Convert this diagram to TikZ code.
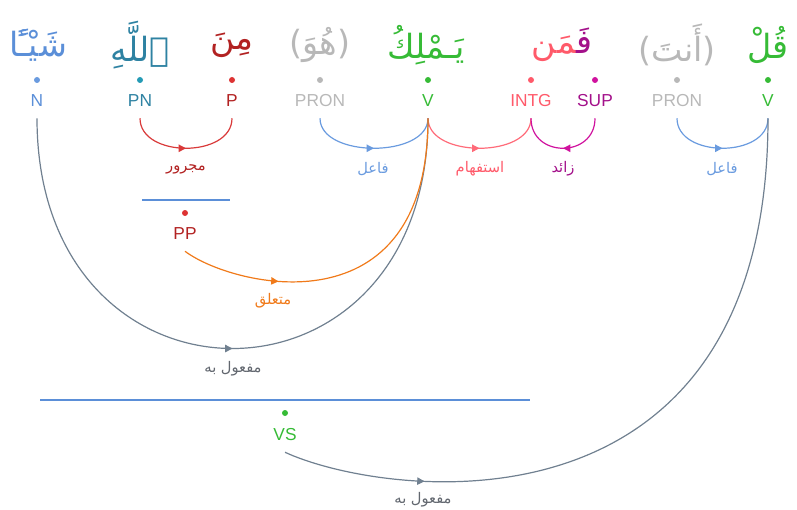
\documentclass[tikz,border=0pt]{standalone}
\usepackage{fontspec}
\setmainfont{Liberation Sans}
\newfontfamily\arabicfont[Script=Arabic]{DejaVu Sans}
\newfontfamily\parenfont{DejaVu Sans}
\TeXXeTstate=1
\usetikzlibrary{arrows.meta,decorations.markings}
\definecolor{nblue}{HTML}{5B8FD8}
\definecolor{pnteal}{HTML}{2E82A2}
\definecolor{pdark}{HTML}{B22222}
\definecolor{pdot}{HTML}{DD3333}
\definecolor{prongray}{HTML}{B8B8B8}
\definecolor{vgreen}{HTML}{36BB36}
\definecolor{intg}{HTML}{FF5A6A}
\definecolor{supcol}{HTML}{A3108A}
\definecolor{supdot}{HTML}{D0129E}
\definecolor{jarr}{HTML}{D93A3A}
\definecolor{subj}{HTML}{6A9BDF}
\definecolor{orng}{HTML}{F07A1A}
\definecolor{slate}{HTML}{708090}
\definecolor{slatetxt}{HTML}{62676F}
\tikzset{
  word/.style={font=\arabicfont\fontsize{25}{30}\selectfont, inner sep=0},
  tag/.style={font=\fontsize{13}{15}\selectfont, inner sep=0, minimum height=25.5pt},
  dot/.style={circle, inner sep=0, minimum size=4.5pt},
  rel/.style={font=\arabicfont\fontsize{11}{13}\selectfont, inner sep=0},
  link/.style={draw=#1, line width=0.9pt},
  mid arrow/.style={postaction={decorate,decoration={markings,
    mark=at position #1 with {\arrow{Triangle[length=5.5pt,width=5.5pt]}}}}}
}
\begin{document}
\begin{tikzpicture}[x=0.75pt,y=-0.75pt]
    \useasboundingbox (0,0) rectangle (797,510);
    % words
    \node[word, text=nblue] (shayan) at (38,45) {\beginR شَيْـًٔا\endR};
    \node[word, text=pnteal] (allah) at (140,45) {\beginR ٱللَّهِ\endR};
    \node[word, text=pdark] (min) at (232,45) {\beginR مِنَ\endR};
    \node[word, text=prongray] (huwa) at (320,45) {{\parenfont(}\beginR هُوَ\endR{\parenfont)}};
    \node[word, text=vgreen] (yamliku) at (426,45) {\beginR يَـمْلِكُ\endR};
    \node[word] (faman) at (562,45) {\textcolor{intg}{^^^^200dمَن}\textcolor{supcol}{فَ^^^^200d}};
    \node[word, text=prongray] (anta) at (677,45) {{\parenfont(}\beginR أَنتَ\endR{\parenfont)}};
    \node[word, text=vgreen] (qul) at (768,45) {\beginR قُلْ\endR};
    % dots
    \node[dot, fill=subj] (dn) at (37,80) {};
    \node[dot, fill=pnteal!80!cyan] (dpn) at (140,80) {};
    \node[dot, fill=pdot] (dp) at (232,80) {};
    \node[dot, fill=prongray] (dpron2) at (320,80) {};
    \node[dot, fill=vgreen] (dv) at (428,80) {};
    \node[dot, fill=intg] (dintg) at (531,80) {};
    \node[dot, fill=supdot] (dsup) at (595,80) {};
    \node[dot, fill=prongray] (dpron1) at (677,80) {};
    \node[dot, fill=vgreen] (dqv) at (768,80) {};
    % tags
    \node[tag, text=nblue] (n) at (37,101) {N};
    \node[tag, text=pnteal] (pn) at (140,101) {PN};
    \node[tag, text=pdark] (p) at (232,101) {P};
    \node[tag, text=prongray] (pron2) at (320,101) {PRON};
    \node[tag, text=vgreen] (v) at (428,101) {V};
    \node[tag, text=intg] (intg) at (531,101) {INTG};
    \node[tag, text=supcol] (sup) at (595,101) {SUP};
    \node[tag, text=prongray] (pron1) at (677,101) {PRON};
    \node[tag, text=vgreen] (qv) at (768,101) {V};
    % phrases
    \draw[nblue, line width=0.9pt] (142,200) -- (230,200);
    \node[dot, fill=pdot] (dpp) at (185,213) {};
    \node[tag, text=pdark] (pp) at (185,234) {PP};
    \draw[nblue, line width=0.9pt] (40,400) -- (530,400);
    \node[dot, fill=vgreen] (dvs) at (285,413) {};
    \node[tag, text=vgreen] (vs) at (285,435) {VS};
    % links
    \draw[link=jarr, mid arrow=0.5] (pn.south) .. controls +(0,40) and +(0,40) .. (p.south);
    \draw[link=subj, mid arrow=0.5] (pron2.south) .. controls +(0,40) and +(0,40) .. (v.south);
    \draw[link=intg!90!white, mid arrow=0.5] (v.south) .. controls +(0,40) and +(0,40) .. (intg.south);
    \draw[link=supdot, mid arrow=0.5] (sup.south) .. controls +(0,40) and +(0,40) .. (intg.south);
    \draw[link=subj, mid arrow=0.5] (pron1.south) .. controls +(0,40) and +(0,40) .. (qv.south);
    \draw[link=slate, mid arrow=0.5] (n.south) .. controls +(0,307) and +(0,307) .. (v.south);
    \draw[link=orng, mid arrow=0.28] (pp.south) .. controls +(48,36) and +(0,215) .. (v.south);
    \draw[link=slate, mid arrow=0.2] (vs.south) .. controls +(100,46) and +(0,430) .. (qv.south);
    % labels
    \node[rel, text=pdark] (ljarr) at (186,169) {\beginR مجرور\endR};
    \node[rel, text=subj] (lsubj2) at (373,169) {\beginR فاعل\endR};
    \node[rel, text=intg] (lintg) at (480,169) {\beginR استفهام\endR};
    \node[rel, text=supcol] (lsup) at (563,169) {\beginR زائد\endR};
    \node[rel, text=subj] (lsubj1) at (722,169) {\beginR فاعل\endR};
    \node[rel, text=orng] (lmut) at (273,301) {\beginR متعلق\endR};
    \node[rel, text=slatetxt] (lobj1) at (233,369) {\beginR مفعول به\endR};
    \node[rel, text=slatetxt] (lobj2) at (423,500) {\beginR مفعول به\endR};
\end{tikzpicture}
\end{document}
